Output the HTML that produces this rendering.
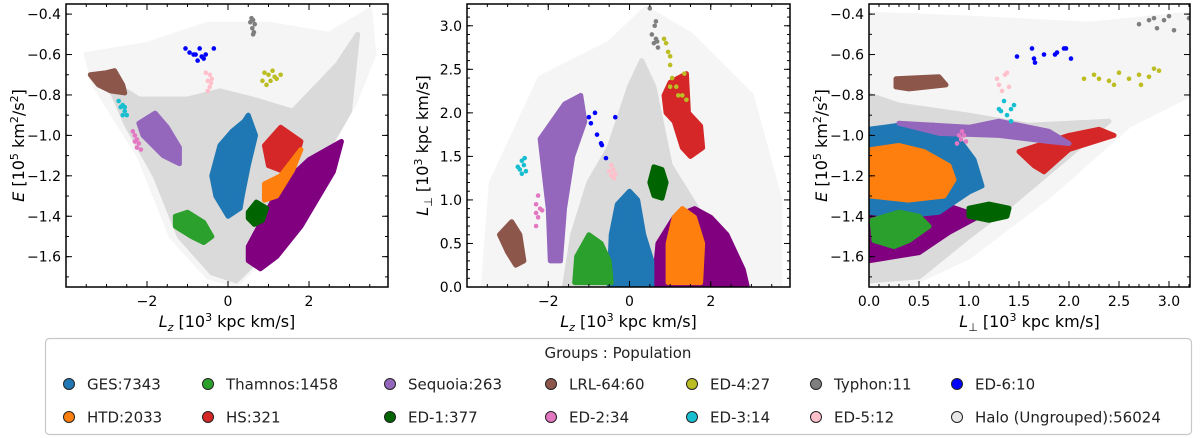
<!DOCTYPE html>
<html><head><meta charset="utf-8"><style>
body{margin:0;background:#fff;width:1200px;height:438px;overflow:hidden;font-family:"DejaVu Sans","Liberation Sans",sans-serif}
svg{position:absolute;left:0;top:0}
</style></head><body>
<svg id="chart" width="1200" height="438" font-family="DejaVu Sans, Liberation Sans, sans-serif"></svg>
<script>
// ---------- data (data units) ----------
// Panel 1: Lz vs E
const p1_haloSparse=[[-3.5,-0.6],[-2,-0.55],[-0.5,-0.45],[1,-0.45],[2.5,-0.5],[3.5,-0.38],[3.6,-0.6],[3.1,-0.85],[1.8,-1.3],[0.8,-1.62],[0.2,-1.74],[-0.5,-1.7],[-1.4,-1.5],[-2.2,-1.1],[-3.3,-0.75]];
const p1_halo=[[-3.0,-0.72],[-2.2,-0.82],[-1.0,-0.82],[-0.2,-0.78],[0.6,-0.82],[1.6,-0.88],[2.7,-0.65],[3.2,-0.5],[3.0,-0.88],[1.8,-1.3],[0.8,-1.6],[0.2,-1.72],[-0.4,-1.68],[-1.2,-1.5],[-1.8,-1.2],[-2.5,-0.95]];
const p1_purple=[[0.5,-1.55],[1.3,-1.25],[2.0,-1.12],[2.8,-1.03],[2.6,-1.18],[1.8,-1.45],[1.2,-1.6],[0.8,-1.66],[0.5,-1.62]];
const p1_ges=[[0.5,-0.9],[0.68,-1.0],[0.5,-1.15],[0.35,-1.3],[0.3,-1.36],[0,-1.4],[-0.3,-1.3],[-0.4,-1.2],[-0.2,-1.05],[0.1,-0.98],[0.4,-0.93]];
const p1_thamnos=[[-1.3,-1.4],[-1.0,-1.38],[-0.6,-1.43],[-0.4,-1.5],[-0.6,-1.53],[-0.9,-1.5],[-1.3,-1.45]];
const p1_ed1=[[0.5,-1.38],[0.7,-1.33],[0.95,-1.36],[0.85,-1.42],[0.65,-1.44],[0.5,-1.41]];
const p1_hs=[[0.9,-1.05],[1.3,-0.96],[1.8,-1.03],[1.7,-1.1],[1.4,-1.18],[1.0,-1.15]];
const p1_htd=[[1.3,-1.2],[1.8,-1.07],[1.6,-1.17],[1.2,-1.3],[0.9,-1.32],[0.9,-1.24]];
const p1_sequoia=[[-2.2,-0.94],[-1.8,-0.89],[-1.5,-0.96],[-1.2,-1.06],[-1.2,-1.14],[-1.6,-1.1],[-2.1,-1.0]];
const p1_lrl=[[-3.4,-0.7],[-3.0,-0.69],[-2.8,-0.68],[-2.6,-0.75],[-2.55,-0.79],[-2.9,-0.78],[-3.2,-0.75]];
const p1_typhon=[[0.58,-0.42],[0.62,-0.43],[0.55,-0.44],[0.66,-0.45],[0.6,-0.47],[0.64,-0.49],[0.62,-0.5]];
const p1_ed6=[[-1.05,-0.57],[-0.95,-0.59],[-0.85,-0.6],[-0.7,-0.57],[-0.75,-0.63],[-0.65,-0.61],[-0.55,-0.6],[-0.35,-0.57],[-0.8,-0.6],[-0.6,-0.62]];
const p1_ed5=[[-0.55,-0.69],[-0.45,-0.7],[-0.5,-0.73],[-0.4,-0.72],[-0.45,-0.76],[-0.5,-0.78],[-0.42,-0.74]];
const p1_ed4=[[0.9,-0.69],[1.0,-0.7],[1.15,-0.71],[1.3,-0.7],[0.85,-0.73],[1.05,-0.73],[1.2,-0.72],[0.95,-0.75],[1.1,-0.68]];
const p1_ed3=[[-2.7,-0.83],[-2.65,-0.86],[-2.6,-0.85],[-2.55,-0.88],[-2.5,-0.9],[-2.6,-0.9],[-2.55,-0.86]];
const p1_ed2=[[-2.35,-0.98],[-2.3,-1.0],[-2.25,-1.02],[-2.2,-1.04],[-2.15,-1.07],[-2.3,-1.03],[-2.25,-1.06]];
// Panel 2: Lz vs Lperp
const p2_haloSparse=[[-3.6,0],[-3.4,1.2],[-2.2,2.4],[-0.5,2.8],[0.4,3.2],[1.5,2.9],[3,2.2],[3.7,1.0],[3.7,0]];
const p2_halo=[[-1.6,0],[-1.4,0.6],[-1.0,1.2],[-0.5,1.6],[0,2.3],[0.3,2.6],[0.6,2.3],[1.0,1.4],[1.8,0.8],[2.2,0.4],[2.5,0]];
const p2_purple=[[0.6,0],[0.7,0.5],[1.1,0.8],[1.6,0.9],[2.0,0.8],[2.4,0.6],[2.8,0.2],[2.9,0]];
const p2_ges=[[-0.5,0.02],[-0.45,0.6],[-0.3,0.95],[0,1.1],[0.2,1.0],[0.35,0.6],[0.55,0.3],[0.55,0.02]];
const p2_thamnos=[[-1.35,0.05],[-1.3,0.35],[-1.0,0.6],[-0.7,0.5],[-0.5,0.3],[-0.45,0.05]];
const p2_ed1=[[0.5,1.2],[0.6,1.38],[0.8,1.35],[0.9,1.2],[0.8,1.02],[0.6,1.05]];
const p2_htd=[[0.95,0.05],[0.95,0.5],[1.1,0.8],[1.3,0.9],[1.6,0.8],[1.8,0.5],[1.75,0.05]];
const p2_hs=[[0.85,2.2],[1.0,2.35],[1.4,2.45],[1.45,2.0],[1.75,1.85],[1.8,1.6],[1.5,1.5],[1.3,1.6],[1.1,1.9],[0.9,2.0]];
const p2_sequoia=[[-2.2,1.7],[-1.6,2.1],[-1.2,2.2],[-1.1,1.9],[-1.4,1.5],[-1.6,0.9],[-1.7,0.3],[-1.95,0.3],[-2.0,0.9],[-2.1,1.3]];
const p2_lrl=[[-3.2,0.6],[-2.9,0.75],[-2.7,0.6],[-2.6,0.3],[-2.8,0.25],[-3.0,0.4]];
const p2_ed3=[[-2.65,1.45],[-2.6,1.4],[-2.7,1.35],[-2.55,1.33],[-2.65,1.3],[-2.75,1.38],[-2.58,1.48]];
const p2_ed2=[[-2.25,1.05],[-2.3,0.95],[-2.2,0.9],[-2.15,0.88],[-2.3,0.85],[-2.25,0.8],[-2.3,0.7]];
const p2_ed6=[[-1.0,1.95],[-0.85,2.0],[-0.95,1.88],[-0.35,1.95],[-0.8,1.75],[-0.7,1.65],[-0.68,1.63],[-0.58,1.48]];
const p2_ed5=[[-0.45,1.4],[-0.4,1.35],[-0.5,1.33],[-0.35,1.3],[-0.45,1.28],[-0.38,1.25]];
const p2_typhon=[[0.5,3.2],[0.65,3.05],[0.62,3.0],[0.55,2.9],[0.65,2.85],[0.6,2.8],[0.7,2.75],[0.68,2.82]];
const p2_ed4=[[0.85,2.85],[0.9,2.8],[0.95,2.7],[1.0,2.65],[1.0,2.55],[1.05,2.4],[1.0,2.3],[1.15,2.3],[1.2,2.2],[1.3,2.2],[1.4,2.15],[1.35,2.45]];
// Panel 3: Lperp vs E
const p3_haloSparse=[[0,-0.4],[1,-0.42],[2.2,-0.45],[3.2,-0.4],[3.2,-0.8],[2.6,-0.95],[1.8,-1.3],[1.0,-1.6],[0.4,-1.74],[0,-1.74]];
const p3_halo=[[0,-0.8],[0.3,-0.85],[1.0,-0.9],[1.6,-0.95],[2.4,-0.93],[2.0,-1.1],[1.4,-1.35],[1.0,-1.5],[0.5,-1.7],[0,-1.72]];
const p3_purple=[[0,-1.33],[0.8,-1.35],[1.1,-1.4],[0.8,-1.48],[0.5,-1.58],[0,-1.62]];
const p3_ges=[[0,-0.97],[0.3,-0.95],[0.65,-0.95],[0.9,-1.02],[1.05,-1.12],[1.13,-1.25],[1.0,-1.28],[0.7,-1.38],[0.3,-1.4],[0,-1.38]];
const p3_htd=[[0.02,-1.07],[0.3,-1.05],[0.55,-1.08],[0.8,-1.15],[0.85,-1.22],[0.75,-1.3],[0.4,-1.32],[0.02,-1.3]];
const p3_thamnos=[[0.03,-1.42],[0.3,-1.38],[0.5,-1.4],[0.6,-1.45],[0.4,-1.52],[0.25,-1.55],[0.05,-1.52]];
const p3_ed1=[[1.0,-1.36],[1.2,-1.34],[1.4,-1.36],[1.38,-1.4],[1.2,-1.42],[1.0,-1.4]];
const p3_hs=[[1.5,-1.08],[2.0,-1.0],[2.3,-0.97],[2.45,-1.0],[2.0,-1.07],[1.75,-1.18],[1.65,-1.15]];
const p3_sequoia=[[0.3,-0.94],[1.0,-0.96],[1.3,-0.93],[1.8,-0.98],[2.0,-1.04],[1.8,-1.03],[1.3,-1.0],[0.7,-0.99]];
const p3_lrl=[[0.27,-0.72],[0.7,-0.71],[0.77,-0.75],[0.4,-0.77],[0.27,-0.76]];
const p3_ed2=[[0.9,-1.0],[0.92,-1.02],[0.95,-1.0],[0.88,-1.04],[0.97,-1.03],[0.93,-0.98]];
const p3_ed3=[[1.3,-0.87],[1.35,-0.83],[1.42,-0.87],[1.38,-0.9],[1.45,-0.85],[1.32,-0.88],[1.42,-0.93]];
const p3_ed5=[[1.28,-0.72],[1.3,-0.75],[1.36,-0.7],[1.4,-0.76],[1.33,-0.78],[1.38,-0.69]];
const p3_ed6=[[1.48,-0.61],[1.63,-0.57],[1.65,-0.62],[1.66,-0.64],[1.75,-0.6],[1.86,-0.6],[1.88,-0.59],[1.95,-0.57],[1.97,-0.57],[2.02,-0.62]];
const p3_ed4=[[2.15,-0.72],[2.25,-0.7],[2.3,-0.72],[2.4,-0.73],[2.5,-0.69],[2.6,-0.72],[2.7,-0.7],[2.72,-0.75],[2.8,-0.71],[2.85,-0.67],[2.9,-0.68],[2.45,-0.75]];
const p3_typhon=[[2.7,-0.45],[2.8,-0.43],[2.85,-0.42],[2.88,-0.47],[3.0,-0.41],[3.05,-0.48],[3.2,-0.42],[2.95,-0.43]];
// legend
const legendLabels=["GES:7343","Thamnos:1458","Sequoia:263","LRL-64:60","ED-4:27","Typhon:11","ED-6:10","HTD:2033","HS:321","ED-1:377","ED-2:34","ED-3:14","ED-5:12","Halo (Ungrouped):56024"];

const C={ges:"#1f77b4",thamnos:"#2ca02c",sequoia:"#9467bd",lrl:"#8c564b",ed4:"#bcbd22",typhon:"#7f7f7f",ed6:"#0000ff",htd:"#ff7f0e",hs:"#d62728",ed1:"#006400",ed2:"#e377c2",ed3:"#17becf",ed5:"#ffc0cb",halo:"#dadada",sparse:"#f5f5f5",purple:"#800080"};
const NS="http://www.w3.org/2000/svg";
const svg=document.getElementById('chart');
function el(tag,attrs,parent){const e=document.createElementNS(NS,tag);for(const k in attrs)e.setAttribute(k,attrs[k]);(parent||svg).appendChild(e);return e;}

function panel(id,box,xlim,ylim,xmaj,xmin,ymaj,ymin,xfmt,yfmt,xlabel,ylabel,layers){
  const g=el('g',{});
  
  
  const sx=v=>box.x0+(v-xlim[0])/(xlim[1]-xlim[0])*(box.x1-box.x0);
  const sy=v=>box.y1-(v-ylim[0])/(ylim[1]-ylim[0])*(box.y1-box.y0);
  const clipId=id+'-clip';
  const cp=el('clipPath',{id:clipId},g);el('rect',{x:box.x0,y:box.y0,width:box.x1-box.x0,height:box.y1-box.y0},cp);
  const plot=el('g',{'clip-path':'url(#'+clipId+')'},g);
  layers.forEach(([name,data,col,kind])=>{
    if(kind==='poly'){
      const p=el('polygon',{points:data.map(d=>sx(d[0])+','+sy(d[1])).join(' '),fill:col,stroke:col,'stroke-width':5,'stroke-linejoin':'round'},plot);
      
      
    }else{
      data.forEach(d=>{
        const c=el('circle',{cx:sx(d[0]),cy:sy(d[1]),r:2.3,fill:col},plot);
        
        
      });
    }
  });
  const tk=el('g',{stroke:'#000','stroke-width':1},g);
  xmin.forEach(v=>{const X=sx(v);el('line',{x1:X,x2:X,y1:box.y1,y2:box.y1-3},tk);el('line',{x1:X,x2:X,y1:box.y0,y2:box.y0+3},tk);});
  ymin.forEach(v=>{const Y=sy(v);el('line',{x1:box.x0,x2:box.x0+3,y1:Y,y2:Y},tk);el('line',{x1:box.x1,x2:box.x1-3,y1:Y,y2:Y},tk);});
  xmaj.forEach(v=>{const X=sx(v);el('line',{x1:X,x2:X,y1:box.y1,y2:box.y1-6},tk);el('line',{x1:X,x2:X,y1:box.y0,y2:box.y0+6},tk);
    const t=el('text',{x:X,y:box.y1+19,'text-anchor':'middle','font-size':14},g);t.textContent=xfmt(v);
    
    });
  ymaj.forEach(v=>{const Y=sy(v);el('line',{x1:box.x0,x2:box.x0+6,y1:Y,y2:Y},tk);el('line',{x1:box.x1,x2:box.x1-6,y1:Y,y2:Y},tk);
    const t=el('text',{x:box.x0-5,y:Y+5,'text-anchor':'end','font-size':14},g);t.textContent=yfmt(v);
    
    });
  el('rect',{x:box.x0,y:box.y0,width:box.x1-box.x0,height:box.y1-box.y0,fill:'none',stroke:'#000','stroke-width':1.5},g);
  const xl=el('text',{x:(box.x0+box.x1)/2,y:box.y1+40,'text-anchor':'middle','font-size':16},g);xl.innerHTML=xlabel;
  
  
  const yx=box.ylx, yy=(box.y0+box.y1)/2;
  const yl=el('text',{x:yx,y:yy,'text-anchor':'middle','font-size':16,transform:'rotate(-90 '+yx+' '+yy+')'},g);yl.innerHTML=ylabel;
  
  
}
const rng=(a,b,s)=>{const r=[];for(let i=0;Math.round((a+i*s)*1000)/1000<=b;i++)r.push(Math.round((a+i*s)*1000)/1000);return r;};
const m=v=>(v<0?'\u2212':'')+Math.abs(v);
const f1=v=>(v<0?'\u2212':'')+Math.abs(v).toFixed(1);
const lzLabel='<tspan font-style="italic">L</tspan><tspan font-style="italic" font-size="11" dy="4">z</tspan><tspan dy="-4"> [10</tspan><tspan font-size="11" dy="-6">3</tspan><tspan dy="6"> kpc km/s]</tspan>';
const lpLabel='<tspan font-style="italic">L</tspan><tspan font-size="11" dy="4">\u22A5</tspan><tspan dy="-4"> [10</tspan><tspan font-size="11" dy="-6">3</tspan><tspan dy="6"> kpc km/s]</tspan>';
const eLabel='<tspan font-style="italic">E</tspan> [10<tspan font-size="11" dy="-6">5</tspan><tspan dy="6"> km</tspan><tspan font-size="11" dy="-6">2</tspan><tspan dy="6">/s</tspan><tspan font-size="11" dy="-6">2</tspan><tspan dy="6">]</tspan>';

panel('panel-lz-energy',{x0:66,x1:388,y0:4,y1:287,ylx:24},[-4,3.95],[-1.75,-0.35],
  [-2,0,2],rng(-3.5,3.5,0.5),rng(-1.6,-0.4,0.2),rng(-1.7,-0.4,0.1),m,f1,lzLabel,eLabel,
  [['halo-sparse',p1_haloSparse,C.sparse,'poly'],['halo-ungrouped',p1_halo,C.halo,'poly'],['purple-disc',p1_purple,C.purple,'poly'],
   ['ges',p1_ges,C.ges,'poly'],['thamnos',p1_thamnos,C.thamnos,'poly'],['ed-1',p1_ed1,C.ed1,'poly'],['hs',p1_hs,C.hs,'poly'],['htd',p1_htd,C.htd,'poly'],
   ['sequoia',p1_sequoia,C.sequoia,'poly'],['lrl-64',p1_lrl,C.lrl,'poly'],['typhon',p1_typhon,C.typhon,'pts'],['ed-6',p1_ed6,C.ed6,'pts'],
   ['ed-5',p1_ed5,C.ed5,'pts'],['ed-4',p1_ed4,C.ed4,'pts'],['ed-3',p1_ed3,C.ed3,'pts'],['ed-2',p1_ed2,C.ed2,'pts']]);
panel('panel-lz-lperp',{x0:467,x1:790,y0:4,y1:287,ylx:428},[-4,3.95],[0,3.25],
  [-2,0,2],rng(-3.5,3.5,0.5),rng(0,3,0.5),rng(0,3.2,0.1),m,f1,lzLabel,lpLabel,
  [['halo-sparse',p2_haloSparse,C.sparse,'poly'],['halo-ungrouped',p2_halo,C.halo,'poly'],['purple-disc',p2_purple,C.purple,'poly'],
   ['ges',p2_ges,C.ges,'poly'],['thamnos',p2_thamnos,C.thamnos,'poly'],['ed-1',p2_ed1,C.ed1,'poly'],['htd',p2_htd,C.htd,'poly'],['hs',p2_hs,C.hs,'poly'],
   ['sequoia',p2_sequoia,C.sequoia,'poly'],['lrl-64',p2_lrl,C.lrl,'poly'],['ed-3',p2_ed3,C.ed3,'pts'],['ed-2',p2_ed2,C.ed2,'pts'],
   ['ed-6',p2_ed6,C.ed6,'pts'],['ed-5',p2_ed5,C.ed5,'pts'],['typhon',p2_typhon,C.typhon,'pts'],['ed-4',p2_ed4,C.ed4,'pts']]);
panel('panel-lperp-energy',{x0:869,x1:1190,y0:4,y1:287,ylx:827},[0,3.21],[-1.75,-0.35],
  rng(0,3,0.5),rng(0,3.2,0.1),rng(-1.6,-0.4,0.2),rng(-1.7,-0.4,0.1),f1,f1,lpLabel,eLabel,
  [['halo-sparse',p3_haloSparse,C.sparse,'poly'],['halo-ungrouped',p3_halo,C.halo,'poly'],['purple-disc',p3_purple,C.purple,'poly'],
   ['ges',p3_ges,C.ges,'poly'],['htd',p3_htd,C.htd,'poly'],['thamnos',p3_thamnos,C.thamnos,'poly'],['ed-1',p3_ed1,C.ed1,'poly'],['hs',p3_hs,C.hs,'poly'],
   ['sequoia',p3_sequoia,C.sequoia,'poly'],['lrl-64',p3_lrl,C.lrl,'poly'],['ed-2',p3_ed2,C.ed2,'pts'],['ed-3',p3_ed3,C.ed3,'pts'],
   ['ed-5',p3_ed5,C.ed5,'pts'],['ed-6',p3_ed6,C.ed6,'pts'],['ed-4',p3_ed4,C.ed4,'pts'],['typhon',p3_typhon,C.typhon,'pts']]);

// legend
const lg=el('g',{});


el('rect',{x:45.5,y:338.5,width:1146,height:96,rx:4,fill:'#fff',stroke:'#c8c8c8','stroke-width':1.2},lg);
const lt=el('text',{x:618,y:358,'text-anchor':'middle','font-size':15,fill:'#222'},lg);lt.textContent='Groups : Population';


const legendColors=[C.ges,C.thamnos,C.sequoia,C.lrl,C.ed4,C.typhon,C.ed6,C.htd,C.hs,C.ed1,C.ed2,C.ed3,C.ed5,'#e8e8e8'];
const colX=[69,208,390,551,692,816,957];
legendLabels.forEach((lab,i)=>{
  const row=Math.floor(i/7), col=i%7, y=row?417:384;
  const e=el('g',{},lg);
  
  
  el('circle',{cx:colX[col],cy:y,r:5.5,fill:legendColors[i],stroke:'#222','stroke-width':1},e);
  const t=el('text',{x:colX[col]+18,y:y+5.5,'font-size':15,fill:'#222'},e);t.textContent=lab;
});
</script>
</body></html>
